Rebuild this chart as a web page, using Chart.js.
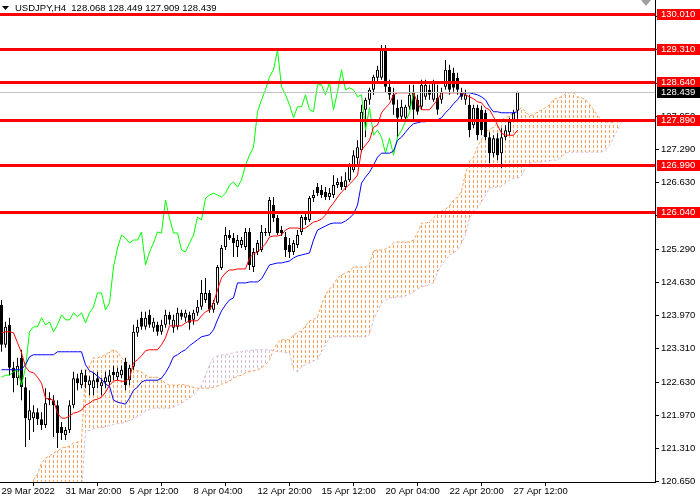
<!DOCTYPE html>
<html><head><meta charset="utf-8">
<script src="https://cdn.jsdelivr.net/npm/chart.js@4/dist/chart.umd.min.js"></script>
<style>html,body{margin:0;padding:0;background:#fff;overflow:hidden}canvas{display:block}</style>
</head><body>
<canvas id="c" width="700" height="500" style="width:700px;height:500px"></canvas>
<script>
const symbol = 'USDJPY', timeframe = 'H4';
const opens = [124.18,123.38,123.78,122.92,122.71,123.12,122.53,121.87,121.91,122.03,
121.89,121.77,122.31,122.27,122.17,121.73,121.57,121.67,122.17,122.71,
122.57,122.77,122.57,122.51,122.71,122.55,122.63,122.63,122.84,122.73,
122.77,123.04,122.67,122.94,123.62,123.92,123.74,123.98,123.72,123.78,
123.64,123.78,123.98,123.72,123.74,124.02,123.92,123.98,123.88,124.02,
124.14,124.28,124.42,124.08,124.22,124.92,125.34,125.58,125.52,125.34,
125.38,125.34,125.64,124.94,125.24,125.28,125.64,125.62,126.18,125.92,
125.68,125.54,125.38,125.24,125.38,125.64,125.94,125.88,126.32,126.54,
126.48,126.44,126.34,126.38,126.58,126.64,126.54,126.68,126.88,127.12,
127.28,128.09,128.29,128.49,128.73,128.73,129.29,128.55,128.39,128.13,
127.95,127.93,128.15,128.45,128.29,128.15,128.35,128.49,128.29,128.33,
128.29,128.55,128.89,128.83,128.73,128.45,128.29,128.19,127.78,128.13,
128.09,128.03,127.54,127.22,127.52,127.22,127.54,127.64,127.89,128.068];
const highs = [124.28,123.84,123.92,123.04,123.12,123.28,122.73,122.47,122.17,122.11,
122.03,122.51,122.43,122.37,122.27,121.83,121.73,122.27,122.84,122.80,
122.88,122.88,122.75,122.82,122.84,122.71,122.84,122.88,122.96,122.92,
122.96,123.12,122.98,123.78,123.88,124.04,124.04,124.08,123.92,123.84,
123.88,124.08,124.04,123.98,124.12,124.08,124.08,124.04,124.08,124.28,
124.68,124.72,124.48,124.28,124.98,125.38,125.74,125.68,125.62,125.58,
125.54,125.72,125.72,125.32,125.48,125.78,125.72,126.34,126.34,125.98,
125.76,125.64,125.52,125.48,125.68,125.98,126.04,126.36,126.48,126.62,
126.58,126.54,126.52,126.78,126.72,126.76,126.84,127.02,127.28,127.48,
128.19,128.33,128.53,128.79,128.97,129.39,129.39,128.69,128.53,128.29,
128.29,128.19,128.59,128.59,128.39,128.69,128.69,128.59,128.69,128.59,
128.53,129.09,128.99,128.93,128.83,128.53,128.49,128.39,128.19,128.19,
128.17,128.09,127.64,127.58,127.62,127.72,127.78,127.93,128.09,128.449];
const lows = [123.24,123.32,122.77,122.43,122.57,122.27,121.33,121.47,121.63,121.77,
121.67,121.71,122.17,121.53,121.31,121.47,121.47,121.61,122.11,122.47,
122.51,122.51,122.37,122.37,122.51,122.37,122.51,122.57,122.67,122.67,
122.71,122.47,122.57,122.88,123.54,123.68,123.68,123.72,123.64,123.56,
123.58,123.72,123.78,123.62,123.68,123.88,123.84,123.68,123.78,123.96,
124.08,124.22,124.02,124.02,124.18,124.88,125.28,125.48,125.14,125.14,
125.32,125.28,124.88,124.84,125.18,125.24,125.56,125.56,125.84,125.58,
125.56,125.14,125.12,125.18,125.32,125.58,125.78,125.84,126.24,126.36,
126.32,126.28,126.28,126.32,126.52,126.48,126.48,126.64,126.84,126.98,
127.24,127.54,128.19,128.39,128.65,128.69,128.43,128.29,127.99,127.54,
127.89,127.85,128.09,127.85,127.99,128.09,128.29,128.29,128.25,127.99,
128.21,128.49,128.39,128.45,128.39,128.29,128.19,127.54,127.72,127.48,
127.58,127.48,127.02,127.14,127.08,126.92,127.48,127.58,127.85,127.909];
const closes = [123.38,123.74,122.92,122.71,122.96,122.53,121.91,122.07,122.03,121.89,
121.77,122.21,122.27,122.17,121.61,121.61,121.67,122.17,122.71,122.61,
122.82,122.63,122.67,122.67,122.63,122.63,122.73,122.77,122.77,122.84,
122.88,122.57,122.92,123.64,123.74,123.74,123.92,123.78,123.84,123.64,
123.78,123.98,123.88,123.88,124.02,123.94,124.02,123.82,124.02,124.14,
124.42,124.42,124.08,124.22,124.94,125.32,125.58,125.52,125.42,125.48,
125.48,125.64,124.98,125.24,125.42,125.64,125.62,126.28,125.92,125.62,
125.62,125.28,125.24,125.42,125.58,125.94,125.88,126.32,126.38,126.42,
126.38,126.34,126.42,126.58,126.64,126.54,126.68,126.98,127.18,127.34,
128.05,128.29,128.49,128.75,128.89,129.29,128.55,128.39,128.19,127.93,
128.15,128.15,128.39,128.09,128.05,128.59,128.59,128.39,128.63,128.09,
128.45,128.89,128.49,128.53,128.49,128.35,128.39,127.68,128.13,127.58,
127.68,127.54,127.22,127.52,127.18,127.54,127.68,127.85,128.03,128.439];
const tenkan = [123.62,123.64,123.64,123.62,123.42,123.22,122.94,122.84,122.82,122.73,
122.61,122.31,122.29,122.27,122.01,121.91,121.91,121.95,122.01,122.03,
122.07,122.17,122.21,122.27,122.29,122.33,122.43,122.57,122.65,122.67,
122.65,122.65,122.71,123.02,123.08,123.16,123.26,123.28,123.28,123.28,
123.38,123.52,123.76,123.76,123.76,123.76,123.82,123.86,123.86,123.86,
123.96,124.04,124.08,124.22,124.48,124.72,124.82,124.88,124.88,124.90,
124.90,124.90,125.12,125.20,125.24,125.32,125.40,125.54,125.56,125.56,
125.58,125.68,125.72,125.72,125.72,125.70,125.72,125.78,125.84,125.86,
125.90,125.98,126.12,126.22,126.34,126.44,126.52,126.60,126.68,126.78,
127.28,127.38,127.48,127.74,127.78,128.03,128.13,128.21,128.39,128.43,
128.43,128.43,128.43,128.43,128.23,128.09,128.09,128.09,128.19,128.29,
128.43,128.43,128.43,128.43,128.43,128.43,128.39,128.35,128.31,128.25,
128.23,128.13,128.09,127.95,127.78,127.62,127.58,127.58,127.58,127.68];
const kijun = [122.88,122.88,122.88,122.88,122.88,122.88,122.98,123.14,123.18,123.18,
123.18,123.18,123.18,123.18,123.24,123.24,123.24,123.24,123.24,123.24,
123.24,122.98,122.86,122.82,122.75,122.69,122.59,122.55,122.27,122.23,
122.21,122.19,122.31,122.47,122.53,122.63,122.67,122.67,122.67,122.67,
122.71,122.82,122.96,123.14,123.18,123.24,123.28,123.36,123.42,123.48,
123.54,123.56,123.58,123.68,123.88,124.06,124.18,124.28,124.32,124.62,
124.62,124.62,124.64,124.64,124.64,124.70,124.84,124.98,125.00,125.02,
125.02,125.04,125.06,125.12,125.16,125.18,125.20,125.22,125.48,125.68,
125.72,125.76,125.80,125.82,125.82,125.82,125.86,125.92,126.00,126.18,
126.62,126.74,126.84,126.98,127.14,127.22,127.22,127.22,127.26,127.48,
127.54,127.64,127.74,127.81,127.83,127.85,127.85,127.87,127.87,127.89,
127.93,128.03,128.11,128.21,128.29,128.41,128.43,128.43,128.41,128.39,
128.35,128.29,128.15,128.05,128.05,128.03,128.03,128.03,128.03,128.05];
const spanA = [null,null,null,null,null,null,null,null,120.67,120.79,
121.01,121.11,121.15,121.21,121.25,121.31,121.33,121.35,121.41,121.43,
121.45,122.84,122.96,123.12,123.12,123.14,123.18,123.24,123.28,123.24,
123.12,123.06,122.98,122.88,122.86,122.84,122.77,122.73,122.73,122.73,
122.67,122.61,122.57,122.57,122.57,122.59,122.57,122.55,122.53,122.51,
122.51,122.51,122.51,122.53,122.55,122.59,122.61,122.65,122.71,122.75,
122.77,122.82,122.84,122.86,122.88,122.92,122.98,123.08,123.28,123.42,
123.48,123.48,123.48,123.58,123.62,123.66,123.76,123.86,123.88,123.94,
124.18,124.38,124.50,124.58,124.72,124.78,124.82,124.86,124.94,124.94,
124.94,124.94,125.00,125.26,125.28,125.28,125.30,125.34,125.42,125.44,
125.44,125.44,125.44,125.48,125.62,125.82,125.82,125.84,125.92,126.02,
126.06,126.10,126.16,126.28,126.34,126.46,126.82,127.06,127.14,127.34,
127.50,127.64,127.70,127.74,127.83,127.89,127.93,127.97,128.03,128.07,
128.13,128.05,127.97,127.99,128.05,128.09,128.13,128.19,128.29,128.33,
128.35,128.41,128.43,128.43,128.35,128.33,128.29,128.21,128.09,127.97,
127.89,127.85,127.83,127.83,127.87,127.89];
const spanB = [120.40,120.40,120.40,120.40,120.40,120.40,120.40,120.40,120.40,120.40,
120.40,120.40,120.40,120.40,120.40,120.40,120.40,120.40,120.40,120.40,
120.40,121.66,121.66,121.70,121.72,121.72,121.74,121.76,121.78,121.80,
121.80,121.84,121.86,121.90,121.94,121.98,122.05,122.09,122.11,122.11,
122.11,122.11,122.11,122.13,122.17,122.21,122.27,122.31,122.37,122.47,
122.57,122.77,122.98,123.12,123.16,123.18,123.18,123.20,123.22,123.24,
123.24,123.26,123.26,123.28,123.28,123.28,123.28,123.28,123.26,123.24,
123.24,123.22,123.22,122.88,122.84,122.94,122.98,123.02,123.06,123.08,
123.24,123.38,123.52,123.54,123.54,123.54,123.54,123.54,123.54,123.54,
123.54,123.54,123.58,123.88,124.04,124.22,124.28,124.32,124.32,124.34,
124.34,124.36,124.40,124.44,124.50,124.54,124.56,124.58,124.62,124.84,
124.98,125.08,125.18,125.22,125.28,125.42,125.58,125.92,126.04,126.12,
126.24,126.38,126.52,126.54,126.54,126.56,126.62,126.68,126.72,126.72,
126.76,126.94,127.02,127.04,127.04,127.04,127.06,127.06,127.08,127.08,
127.14,127.22,127.24,127.24,127.24,127.24,127.24,127.24,127.24,127.24,
127.24,127.28,127.38,127.54,127.68,127.85];
const chikouShift = 26;
const levels = [130.010, 129.310, 128.640, 127.890, 126.990, 126.040];
const lastPrice = 128.439;
const yTicks = [120.650,121.310,121.970,122.630,123.310,123.970,124.630,125.290,125.970,126.630,127.290,127.950,128.610,129.290,129.950];
const xTickBars = [0,16,32,48,64,80,96,112,128];
const xTickLabels = ['29 Mar 2022','31 Mar 20:00','5 Apr 12:00','8 Apr 04:00','12 Apr 20:00','15 Apr 12:00','20 Apr 04:00','22 Apr 20:00','27 Apr 12:00'];

const FONT = "'Liberation Sans', Arial, sans-serif";
const FSIZE = 9.5;
Chart.defaults.font.family = FONT;
Chart.defaults.font.size = FSIZE;
Chart.defaults.color = '#000';

const wickData = highs.map((h,i)=>({x:i, y:[lows[i], h]}));
const bodyData = opens.map((o,i)=>({x:i, y:[o, closes[i]]}));
const bodyColors = opens.map((o,i)=> closes[i] >= o ? '#FFFFFF' : '#000000');
const toXY = arr => arr.map((v,i)=>({x:i, y:v}));
const chikouData = closes.slice(chikouShift).map((c,k)=>({x:k, y:c}));

const cloud = {
  id:'cloud',
  beforeDatasetsDraw(chart){
    const {ctx, chartArea:a, scales:{x, y}} = chart;
    ctx.save();
    ctx.beginPath(); ctx.rect(a.left, a.top, a.right-a.left, a.bottom-a.top); ctx.clip();
    spanA.forEach((av,i)=>{
      if(av === null) return;
      const bv = spanB[i];
      const px = Math.floor(x.getPixelForValue(i));
      const y1 = Math.round(y.getPixelForValue(Math.max(av,bv)));
      const y2 = Math.min(Math.round(y.getPixelForValue(Math.min(av,bv))), a.bottom);
      ctx.fillStyle = av >= bv ? '#F4A460' : '#D8BFD8';
      for(let yy = Math.floor(y1/5)*5; yy < y2; yy += 5){
        const t = Math.max(yy, y1), b = Math.min(yy+3, y2);
        if(b > t) ctx.fillRect(px, t, 1, b-t);
      }
    });
    ctx.restore();
  }
};

const overlay = {
  id:'overlay',
  afterDatasetsDraw(chart){
    const {ctx, chartArea:a, scales:{y}} = chart;
    ctx.save();
    const lp = Math.round(y.getPixelForValue(lastPrice));
    ctx.fillStyle = '#C0C0C0'; ctx.fillRect(a.left, lp, a.right-a.left, 1);
    ctx.fillStyle = '#FF0000';
    levels.forEach(v=>{ const p = Math.round(y.getPixelForValue(v)); ctx.fillRect(a.left, p-1, a.right-a.left, 3); });
    ctx.restore();
  },
  afterDraw(chart){
    const {ctx, chartArea:a, scales:{y}} = chart;
    ctx.save();
    ctx.font = FSIZE + 'px ' + FONT;
    ctx.textAlign = 'left'; ctx.textBaseline = 'middle';
    const box = (v,bg)=>{
      const p = Math.round(y.getPixelForValue(v));
      ctx.fillStyle = bg; ctx.fillRect(a.right+2, p-5, chart.width-(a.right+2), 11);
      ctx.fillStyle = '#FFFFFF'; ctx.fillText(v.toFixed(3), a.right+6, p+0.5);
    };
    levels.forEach(v=>box(v,'#FF0000'));
    box(lastPrice,'#000000');
    ctx.fillStyle = '#000';
    ctx.beginPath(); ctx.moveTo(2,6); ctx.lineTo(9,6); ctx.lineTo(5.5,10); ctx.closePath(); ctx.fill();
    const n = opens.length-1;
    const title = symbol + ',' + timeframe + '  ' + [opens[n],highs[n],lows[n],closes[n]].map(v=>v.toFixed(3)).join(' ');
    ctx.textBaseline = 'alphabetic';
    ctx.fillText(title, 15, 11);
    ctx.fillStyle = '#A0A0A0';
    ctx.beginPath(); ctx.moveTo(641,0); ctx.lineTo(651,0); ctx.lineTo(646,6); ctx.closePath(); ctx.fill();
    ctx.restore();
  }
};

new Chart(document.getElementById('c'), {
  type:'bar',
  data:{ datasets:[
    {type:'line', data:toXY(spanA), borderColor:'#F4A460', borderDash:[3,2], borderWidth:1, pointRadius:0, tension:0, fill:false, order:9, clip:0},
    {type:'line', data:toXY(spanB), borderColor:'#D8BFD8', borderDash:[3,2], borderWidth:1, pointRadius:0, tension:0, fill:false, order:9, clip:0},
    {type:'bar', data:wickData, backgroundColor:'#000', barThickness:1, grouped:false, inflateAmount:0, borderWidth:0, order:5},
    {type:'bar', data:bodyData, backgroundColor:bodyColors, borderColor:'#000', borderWidth:1, borderSkipped:false, barThickness:3, grouped:false, inflateAmount:0, order:4},
    {type:'line', data:chikouData, borderColor:'#00FF00', borderWidth:1, pointRadius:0, tension:0, fill:false, order:3},
    {type:'line', data:toXY(kijun), borderColor:'#0000FF', borderWidth:1, pointRadius:0, tension:0, fill:false, order:2},
    {type:'line', data:toXY(tenkan), borderColor:'#FF0000', borderWidth:1, pointRadius:0, tension:0, fill:false, order:1}
  ]},
  options:{
    responsive:false, animation:false, devicePixelRatio:1, events:[],
    layout:{padding:0},
    plugins:{legend:{display:false}, tooltip:{enabled:false}},
    scales:{
      x:{ type:'linear', min:-0.375, max:163.375, offset:false,
        afterBuildTicks: s => { s.ticks = xTickBars.map(v=>({value:v})); },
        afterFit: s => { s.height = 18; s.paddingLeft = 0; s.paddingRight = 0; },
        ticks:{ autoSkip:false, maxRotation:0, minRotation:0, align:'start', padding:0, color:'#000', font:{size:FSIZE, lineHeight:1.1}, callback:(v,i)=>xTickLabels[i] },
        grid:{ drawOnChartArea:false, drawTicks:true, tickLength:4, color:'#000' },
        border:{ display:true, color:'#000', width:1 }
      },
      y:{ type:'linear', position:'right', min:120.63, max:130.29,
        afterBuildTicks: s => { s.ticks = yTicks.map(v=>({value:v})); },
        afterFit: s => { s.width = 45; s.paddingTop = 0; s.paddingBottom = 0; },
        ticks:{ padding:2, crossAlign:'near', color:'#000', font:{size:FSIZE}, callback:v=>Number(v).toFixed(3) },
        grid:{ drawOnChartArea:false, drawTicks:true, tickLength:4, color:'#000' },
        border:{ display:true, color:'#000', width:1 }
      }
    }
  },
  plugins:[cloud, overlay]
});
</script>
</body></html>
